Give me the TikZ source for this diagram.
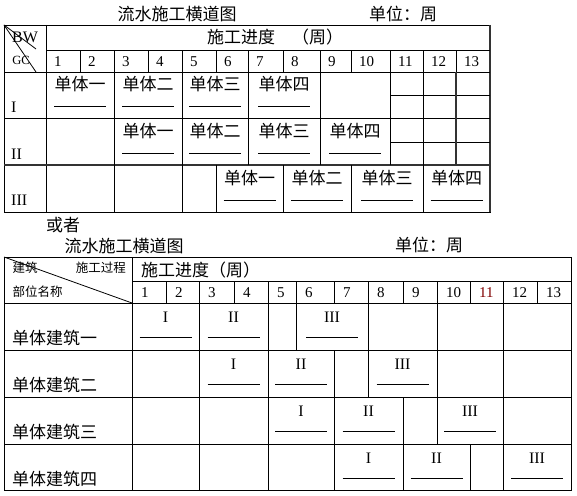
\documentclass[tikz,border=0pt]{standalone}
\usepackage{fontspec}
\setmainfont{Liberation Serif}
\newfontfamily\cjk{Noto Sans CJK SC}
\definecolor{numred}{RGB}{128,0,0}

\begin{document}
\begin{tikzpicture}[x=1pt,y=-1pt]
\tikzset{grid/.style={line width=0.8pt}}
\tikzset{heavy/.style={line width=1.7pt,black!80}}
\tikzset{bar/.style={line width=0.7pt}}
\tikzset{zh/.style={font=\cjk\fontsize{17}{19}\selectfont,inner sep=0pt}}
\tikzset{zhs/.style={font=\cjk\fontsize{12.5}{14}\selectfont,inner sep=0pt}}
\tikzset{roman/.style={font=\fontsize{16}{18}\selectfont,inner sep=0pt}}
\tikzset{num/.style={font=\fontsize{15}{17}\selectfont,inner sep=0pt,anchor=west}}
\useasboundingbox (0,0) rectangle (577,495);

% first chart: rows are the work steps
\node[zh] (title1) at (177,14) {流水施工横道图};
\node[zh] (unit1) at (403,14) {单位：周};
\draw[grid] (4,25) rectangle (490,212);
\draw[heavy] (490,25) -- (490,212);
\draw[grid] (46,25) -- (46,212);
\draw[grid] (46,50) -- (490,50);
\foreach \y in {72,118} \draw[grid] (4,\y) -- (490,\y);
\draw[heavy] (4,165) -- (490,165);
\foreach \y in {95,142} \draw[grid] (390,\y) -- (490,\y);
\foreach \x in {80,114,148,182,216,248,283,320,351,390,423,456} \draw[grid] (\x,50) -- (\x,72);
\foreach \x in {114,182,248,320,390,423} \draw[grid] (\x,72) -- (\x,165);
\draw[heavy] (456,72) -- (456,165);
\foreach \x in {114,182,216,283,351,423} \draw[grid] (\x,165) -- (\x,212);
\coordinate (ucorner) at (4,25);
\coordinate (ubw) at (36,49);
\coordinate (ugc) at (36,72);
\draw[grid] (ucorner) -- (ubw);
\draw[grid] (ucorner) -- (ugc);
\node[roman] (bw) at (25,37) {BW};
\node[font=\fontsize{12.5}{14}\selectfont,inner sep=0pt] (gc) at (21,60.5) {GC};
\node[zh,anchor=west] (prog1) at (207,37) {施工进度　（周）};
\foreach \n/\x in {1/46,2/80,3/114,4/148,5/182,6/216,7/248,8/283,9/320,10/351,11/390,12/423,13/456}
  \node[num] (un\n) at (\x+8,61.5) {\n};
\foreach \n/\t/\y in {1/I/107,2/II/154,3/III/200}
  \node[roman,anchor=west] (ur\n) at (11,\y) {\t};
\foreach \n/\x/\y/\t in {11/80/84/单体一,12/148/84/单体二,13/215/84/单体三,14/284/84/单体四,
    21/148/131/单体一,22/215/131/单体二,23/284/131/单体三,24/355/131/单体四,
    31/249.5/178/单体一,32/317/178/单体二,33/387/178/单体三,34/456.5/178/单体四}
  {\node[zh] (ut\n) at (\x,\y) {\t};
   \draw[bar] ([xshift=-26pt,yshift=-22pt]ut\n.center) -- ([xshift=26pt,yshift=-22pt]ut\n.center);}

% second chart: rows are the buildings
\node[zh] (or) at (63,225) {或者};
\node[zh] (title2) at (124,246) {流水施工横道图};
\node[zh] (unit2) at (429,245) {单位：周};
\draw[grid] (4,257) rectangle (571,490);
\draw[grid] (132,257) -- (132,490);
\draw[grid] (132,281) -- (571,281);
\foreach \y in {303,350,397,444} \draw[grid] (4,\y) -- (571,\y);
\foreach \x in {166,199,234,268,296,334,368,403,437,470,503,537} \draw[grid] (\x,281) -- (\x,303);
\foreach \ya/\yb/\xs in {303/350/{199,268,296,368,437,503},350/397/{199,268,334,368,437,503},
    397/444/{199,268,334,403,437,503},444/490/{199,268,334,403,470,503}}
  \foreach \x in \xs \draw[grid] (\x,\ya) -- (\x,\yb);
\coordinate (lcorner) at (4,257);
\coordinate (lend) at (132,303);
\draw[grid] (lcorner) -- (lend);
\node[zhs,anchor=west] (jz) at (12.5,268) {建筑};
\node[zhs,anchor=east] (gcgc) at (126,268) {施工过程};
\node[zhs,anchor=west] (bwmc) at (12.5,292) {部位名称};
\node[zh,anchor=west] (prog2) at (141,270) {施工进度（周）};
\foreach \n/\x in {1/132,2/166,3/199,4/234,5/268,6/296,7/334,8/368,9/403,10/437,12/503,13/537}
  \node[num] (ln\n) at (\x+9,292.5) {\n};
\node[num,text=numred] (ln11) at (479,292.5) {11};
\foreach \n/\t/\y in {1/单体建筑一/338,2/单体建筑二/385,3/单体建筑三/432,4/单体建筑四/479}
  \node[zh,anchor=west] (lr\n) at (12,\y) {\t};
\foreach \n/\x/\y/\t in {11/165.5/317/I,12/233.5/317/II,13/332/317/III,
    21/233.5/364/I,22/301/364/II,23/402.5/364/III,
    31/301/411/I,32/368.5/411/II,33/470/411/III,
    41/368.5/458/I,42/436.5/458/II,43/537/458/III}
  {\node[roman] (lt\n) at (\x,\y) {\t};
   \draw[bar] ([xshift=-26pt,yshift=-20pt]lt\n.center) -- ([xshift=26pt,yshift=-20pt]lt\n.center);}
\end{tikzpicture}
\end{document}
